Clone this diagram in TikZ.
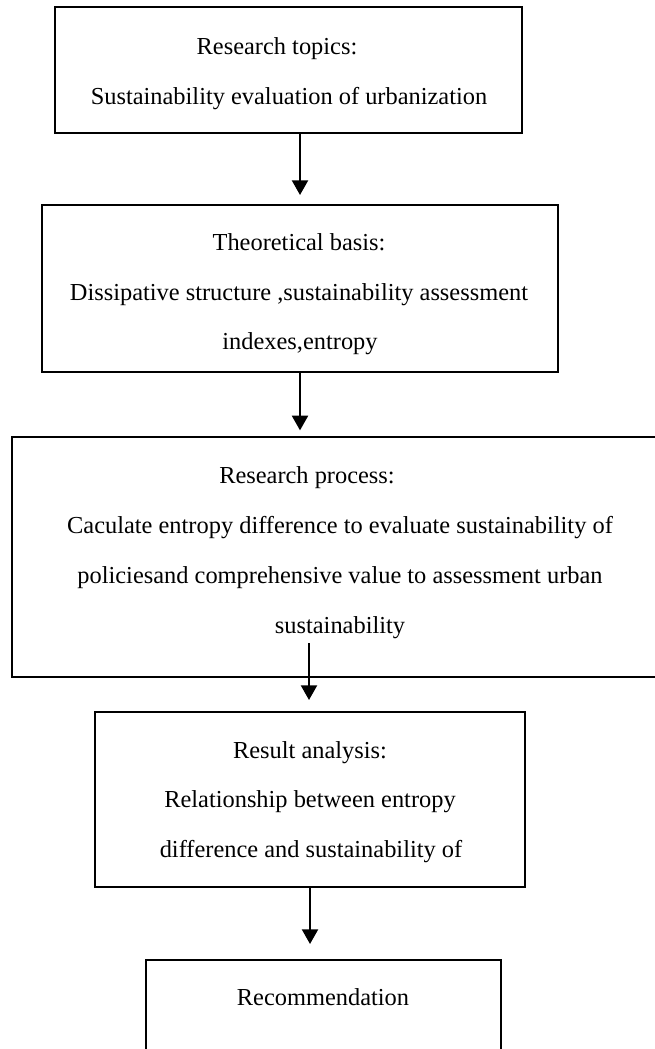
\documentclass[tikz,border=0pt]{standalone}
\usepackage{fontspec}
\setmainfont{Liberation Serif}
\usetikzlibrary{arrows.meta}
\begin{document}
\begin{tikzpicture}[x=0.75pt,y=-0.75pt,
  box/.style={draw=black, line width=1.4pt, fill=white, inner sep=0pt, outer sep=0pt},
  txt/.style={anchor=base, inner sep=0pt, font=\fontsize{18.3}{22}\selectfont},
  arr/.style={draw=black, line width=1.6pt, -{Triangle[length=11pt,width=12pt]}}]
  % page area
  \clip (0,0) rectangle (655,1049);
  \fill[white] (0,0) rectangle (655,1049);

  % boxes
  \node[box, minimum width=350.25pt,minimum height=94.5pt]   (b1) at (288.5,70)  {};
  \node[box, minimum width=387pt,   minimum height=125.25pt] (b2) at (300,288.5) {};
  \node[box, minimum width=486pt,   minimum height=180pt]    (b3) at (336,557)   {};
  \node[box, minimum width=322.5pt, minimum height=131.25pt] (b4) at (310,799.5) {};
  \node[box, minimum width=266.25pt,minimum height=90pt]     (b5) at (323.5,1020){};

  % texts
  \node[txt] (t11) at (277,55)  {Research topics:};
  \node[txt] (t12) at (289,104) {Sustainability evaluation of urbanization};

  \node[txt] (t21) at (299,250) {Theoretical basis:};
  \node[txt] (t22) at (299,300) {Dissipative structure ,sustainability assessment};
  \node[txt] (t23) at (300,349) {indexes,entropy};

  \node[txt] (t31) at (307,483) {Research process:};
  \node[txt] (t32) at (340,533) {Caculate entropy difference to evaluate sustainability of};
  \node[txt] (t33) at (340,583) {policiesand comprehensive value to assessment urban};
  \node[txt] (t34) at (340,633) {sustainability};

  \node[txt] (t41) at (310,758) {Result analysis:};
  \node[txt] (t42) at (310,807) {Relationship between entropy};
  \node[txt] (t43) at (311,857) {difference and sustainability of};

  \node[txt] (t51) at (323,1005) {Recommendation};

  % connectors
  \coordinate (s3) at (309,643);
  \draw[arr, shorten >=7.5pt] (b2.north |- b1.south) -- (b2.north);
  \draw[arr, shorten >=5pt]   (b2.south) -- (b2.south |- b3.north);
  \draw[arr, shorten >=9pt]   (s3) -- (s3 |- b4.north);
  \draw[arr, shorten >=12pt]  (b4.south) -- (b4.south |- b5.north);
\end{tikzpicture}
\end{document}
